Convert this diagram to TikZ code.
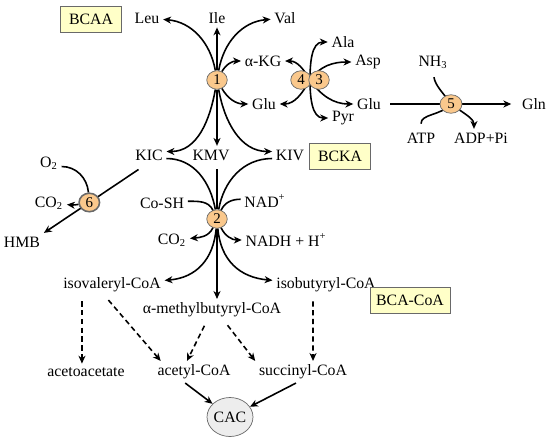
\documentclass[tikz,border=0pt]{standalone}
\usepackage{fontspec}
\setmainfont{Liberation Serif}
\definecolor{enzorange}{RGB}{250, 200, 140}
\definecolor{tagyellow}{RGB}{255, 255, 200}
\definecolor{edgegray}{RGB}{105, 105, 105}
\usepackage{tikz}
\usetikzlibrary{shapes.geometric, arrows.meta, calc}

\begin{document}
\begin{tikzpicture}[
  x=0.02cm, y=-0.02cm,
  lbl/.style={inner sep=2pt, font=\fontsize{9}{11}\selectfont},
  enz/.style={ellipse, draw=edgegray, fill=enzorange, minimum width=0.41cm, minimum height=0.37cm, inner sep=0pt, font=\fontsize{8.5}{10}\selectfont},
  tag/.style={draw=edgegray, fill=tagyellow, minimum height=0.52cm, inner xsep=5pt, font=\fontsize{9}{11}\selectfont},
  cac/.style={ellipse, draw=edgegray, fill=black!7, minimum width=0.85cm, minimum height=0.78cm, inner sep=0pt, font=\fontsize{9}{11}\selectfont},
  link/.style={line width=0.9pt},
  rxn/.style={link, -{Stealth[length=4.5pt, width=4pt, inset=1.4pt]}},
  dsh/.style={rxn, dash pattern=on 3pt off 2pt, shorten <=3pt}
]
  \useasboundingbox (0,0) rectangle (550,443);

  % amino acids and transamination
  \node[tag] (bcaa) at (91,19) {BCAA};
  \node[lbl] (leu) at (147,18) {Leu};
  \node[lbl] (ile) at (217,18) {Ile};
  \node[lbl] (val) at (285,18) {Val};
  \node[enz] (e1) at (217,80) {1};
  \node[lbl] (akg) at (263,61) {α-KG};
  \node[lbl] (glua) at (264,104) {Glu};

  \draw[rxn] (e1) to[out=100, in=-5] (leu);
  \draw[rxn] (e1) -- (ile);
  \draw[rxn] (e1) to[out=80, in=185] (val);
  \draw[rxn] (e1) to[out=60, in=180] (akg);
  \draw[rxn] (e1) to[out=-60, in=180] (glua);

  % nodes 4 and 3
  \coordinate (j34) at (310,80);
  \node[lbl] (ala) at (343,42) {Ala};
  \node[lbl] (asp) at (368,62) {Asp};
  \node[lbl] (glub) at (369,104) {Glu};
  \node[lbl] (pyr) at (343,118) {Pyr};
  \draw[rxn] (j34) to[out=90, in=180] (ala);
  \draw[rxn] (j34) to[out=55, in=180] (asp);
  \draw[rxn] (j34) to[out=-55, in=180] (glub);
  \draw[rxn] (j34) to[out=-90, in=180] (pyr);
  \draw[rxn] (j34) to[out=120, in=0] (akg);
  \draw[rxn] (j34) to[out=-120, in=0] (glua);
  \node[enz] (e4) at (301,80) {4};
  \node[enz] (e3) at (319,80) {3};

  % glutamine synthesis
  \node[lbl] (gln) at (534,104) {Gln};
  \node[lbl] (nh3) at (433,62) {NH\textsubscript{3}};
  \node[lbl] (atp) at (421,138) {ATP};
  \node[lbl] (adp) at (481,138) {ADP+Pi};
  \draw[rxn, shorten <=3pt, shorten >=4pt] (glub) -- (gln);
  \draw[link, shorten <=3pt] (nh3.south) to[out=-80, in=125] (451,104);
  \draw[link, shorten <=3pt] (atp.north) to[out=90, in=-130] (451,104);
  \node[enz, minimum width=0.44cm] (e5) at (451,104) {5};
  \draw[rxn] (e5) to[out=-35, in=90] ([xshift=-4pt]adp.north);

  % keto acids
  \node[lbl] (kic) at (149,155) {KIC};
  \node[lbl] (kmv) at (211,155) {KMV};
  \node[lbl] (kiv) at (290,155) {KIV};
  \node[tag] (bcka) at (340,156) {BCKA};
  \draw[rxn] (e1) to[out=-100, in=0] ([yshift=2pt]kic.east);
  \draw[rxn] (e1) -- (e1 |- kmv.north);
  \draw[rxn] (e1) to[out=-80, in=180] ([yshift=2pt]kiv.west);

  % HMB branch
  \node[lbl] (o2) at (49,163) {O\textsubscript{2}};
  \node[lbl] (co2a) at (49,203) {CO\textsubscript{2}};
  \node[lbl] (hmb) at (22,242) {HMB};
  \draw[rxn] ([shift={(4pt,-3pt)}]kic.south west) -- node[enz, pos=0.52] (e6) {6} (hmb.north east);
  \draw[link] ([yshift=-2pt]o2.east) to[out=0, in=95] (e6);
  \draw[rxn] (e6) to[out=190, in=-5] (co2a);

  % decarboxylation
  \node[enz] (e2) at (217,219) {2};
  \node[lbl] (cosh) at (162,203) {Co-SH};
  \node[lbl] (nad) at (265,201) {NAD\textsuperscript{+}};
  \node[lbl] (co2b) at (172,240) {CO\textsubscript{2}};
  \node[lbl] (nadh) at (286,240) {NADH + H\textsuperscript{+}};
  \draw[link] ([yshift=-2pt]kic.east) to[out=0, in=100] (e2);
  \draw[link] ([yshift=-2pt]kiv.west) to[out=180, in=80] (e2);
  \draw[link, shorten <=3pt] (e2 |- kmv.south) -- (e2);
  \draw[link] ([yshift=1pt]cosh.east) to[out=0, in=115] (e2);
  \draw[link] ([yshift=1pt]nad.west) to[out=180, in=65] (e2);
  \draw[rxn] (e2) to[out=-115, in=5] (co2b);
  \draw[rxn] (e2) to[out=-65, in=180] (nadh);

  % acyl-CoA
  \node[lbl] (ivcoa) at (112,285) {isovaleryl-CoA};
  \node[lbl] (ibcoa) at (326,285) {isobutyryl-CoA};
  \node[lbl] (mbcoa) at (212,310) {α-methylbutyryl-CoA};
  \node[tag, inner xsep=3.5pt] (bcacoa) at (410,300) {BCA-CoA};
  \draw[rxn] (e2) to[out=-95, in=5, looseness=1.1] (ivcoa);
  \draw[rxn] (e2) to[out=-85, in=175, looseness=1.1] (ibcoa);
  \draw[rxn] (e2) -- (e2 |- mbcoa.north);

  % products
  \node[lbl] (acac) at (86,372) {acetoacetate};
  \node[lbl] (accoa) at (194,372) {acetyl-CoA};
  \node[lbl] (sucoa) at (303,372) {succinyl-CoA};
  \node[cac] (cac) at (230,417) {CAC};
  \draw[dsh] ([xshift=-2.3pt]acac.north |- ivcoa.south) -- ([xshift=-2.3pt]acac.north);
  \draw[dsh] ([xshift=-4pt]ivcoa.south) -- ([xshift=4pt]accoa.north west);
  \draw[dsh] ([xshift=-3pt]mbcoa.south) -- ([xshift=-4pt]accoa.north);
  \draw[dsh] ([xshift=7pt]mbcoa.south) -- (sucoa.north west);
  \draw[dsh] ([xshift=-7.4pt]ibcoa.south) -- ([xshift=5.7pt]sucoa.north);
  \draw[rxn] ([xshift=-5pt]accoa.south) -- (cac);
  \draw[rxn] ([xshift=-4pt]sucoa.south) -- (cac);
\end{tikzpicture}
\end{document}
